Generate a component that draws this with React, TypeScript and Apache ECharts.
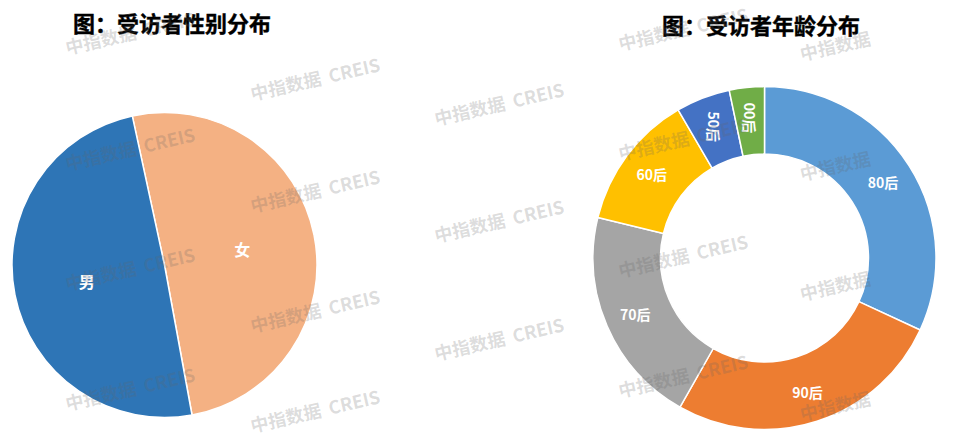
import React, { useEffect, useRef } from "react";
import * as echarts from "echarts";

const genderCategories = ["女", "男"];
const genderValues = [50.5, 49.5];
const genderColors = ["#F4B183", "#2E75B6"];

const ageCategories = ["80后", "90后", "70后", "60后", "50后", "00后"];
const ageValues = [31.9, 26.3, 20.6, 12.8, 5.1, 3.3];
const ageColors = ["#5B9BD5", "#ED7D31", "#A5A5A5", "#FFC000", "#4472C4", "#70AD47"];
const rotatedAgeLabels = ["50后", "00后"];

const titles = ["图：受访者性别分布", "图：受访者年龄分布"];
const watermarkText = "中指数据  CREIS";
const watermarkShort = "中指数据";

// watermark layout (centers)
const wmFull: [number, number][] = [
  [130, 32], [130, 148], [130, 268], [130, 388],
  [315, 78], [315, 190], [315, 310], [315, 410],
  [499, 103], [499, 220], [499, 338],
  [683, 28], [683, 138], [683, 255], [683, 375],
];
const wmPartial: [number, number][] = [[835, 45], [835, 165], [835, 285], [835, 405]];

export default function App() {
  const ref = useRef<HTMLDivElement>(null);
  useEffect(() => {
    if (!ref.current) return;
    const chart = echarts.init(ref.current, null, { renderer: "svg" });
    const rot = (13 * Math.PI) / 180;
    const wmStyle = {
      fill: "rgba(100,100,100,0.22)",
      font: "bold 18px 'Noto Sans CJK SC', sans-serif",
      textAlign: "center",
      textVerticalAlign: "middle",
    };
    const graphics: any[] = [];
    titles.forEach((t, i) => {
      graphics.push({
        type: "text",
        x: i === 0 ? 172 : 761,
        y: i === 0 ? 22 : 24,
        z: 5,
        style: {
          text: t,
          fill: "#000",
          font: "bold 22px 'Noto Sans CJK SC', sans-serif",
          textAlign: "center",
          textVerticalAlign: "middle",
          stroke: "#000",
          lineWidth: 0.4,
        },
      });
    });
    wmFull.forEach(([x, y]) => {
      graphics.push({ type: "text", x, y, rotation: rot, z: 100, silent: true, style: { ...wmStyle, text: watermarkText } });
    });
    wmPartial.forEach(([x, y]) => {
      graphics.push({ type: "text", x, y, rotation: rot, z: 100, silent: true, style: { ...wmStyle, text: watermarkShort } });
    });

    chart.setOption({
      animation: false,
      backgroundColor: "#fff",
      graphic: graphics,
      series: [
        {
          type: "pie",
          center: [164.5, 265],
          radius: [0, 152.5],
          startAngle: 102.2,
          clockwise: true,
          avoidLabelOverlap: false,
          itemStyle: { borderColor: "#fff", borderWidth: 1.5 },
          label: {
            show: true,
            position: "inside",
            formatter: "{b}",
            color: "#fff",
            fontWeight: "bold",
            fontSize: 16,
            fontFamily: "'Noto Sans CJK SC', sans-serif",
          },
          labelLine: { show: false },
          data: genderCategories.map((name, i) => ({
            name,
            value: genderValues[i],
            itemStyle: { color: genderColors[i] },
          })),
        },
        {
          type: "pie",
          center: [764.5, 258],
          radius: [104, 171.5],
          startAngle: 90,
          clockwise: true,
          avoidLabelOverlap: false,
          itemStyle: { borderColor: "#fff", borderWidth: 1.5 },
          label: {
            show: true,
            position: "inside",
            formatter: "{b}",
            color: "#fff",
            fontWeight: "bold",
            fontSize: 14,
            fontFamily: "'Noto Sans CJK SC', sans-serif",
          },
          labelLine: { show: false },
          data: ageCategories.map((name, i) => ({
            name,
            value: ageValues[i],
            itemStyle: { color: ageColors[i] },
            label: rotatedAgeLabels.includes(name) ? { rotate: -90 } : undefined,
          })),
        },
      ],
    });
    return () => chart.dispose();
  }, []);
  return (
    <div
      ref={ref}
      style={{ position: "fixed", left: 0, top: 0, width: 960, height: 437 }}
    />
  );
}
